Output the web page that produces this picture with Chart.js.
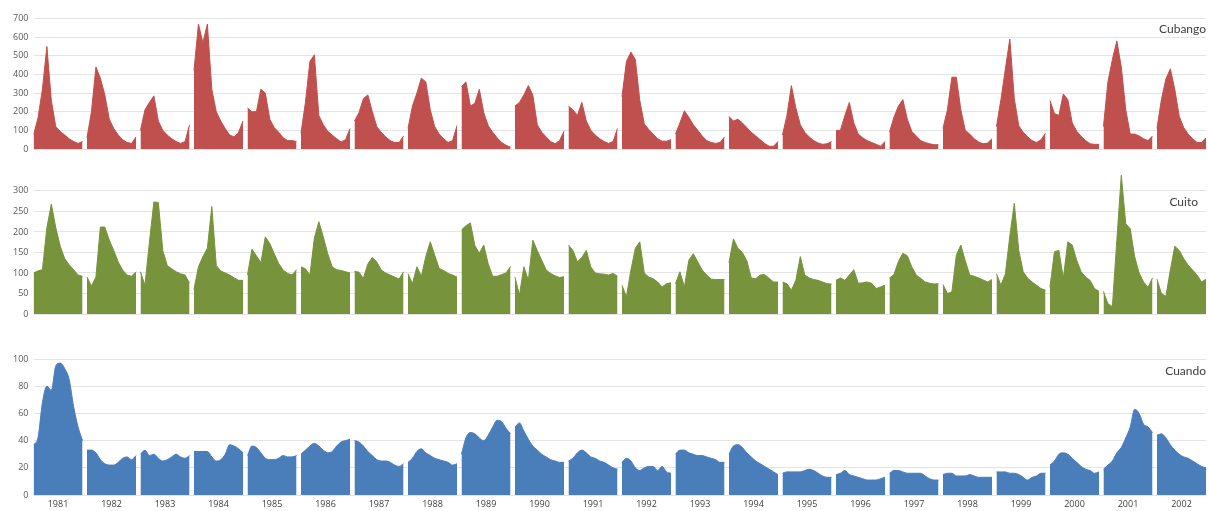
<!DOCTYPE html>
<html><head><meta charset="utf-8">
<script src="https://cdn.jsdelivr.net/npm/chart.js@4/dist/chart.umd.min.js"></script>
<style>
html,body{margin:0;padding:0;background:#fff;}
#wrap{position:relative;width:1208px;height:511px;overflow:hidden;background:#fff;}
.c{position:absolute;left:0;width:1208px;}
</style></head><body>
<div id="wrap">
<div class="c" style="top:0;height:160px"><canvas id="c1"></canvas></div>
<div class="c" style="top:160px;height:165px"><canvas id="c2"></canvas></div>
<div class="c" style="top:330px;height:181px"><canvas id="c3"></canvas></div>
</div>
<script>
const years = ['1981','1982','1983','1984','1985','1986','1987','1988','1989','1990','1991',
  '1992','1993','1994','1995','1996','1997','1998','1999','2000','2001','2002'];

const seriesNames = ['Cubango','Cuito','Cuando'];

const cubango = [
  75,165,320,550,260,120,95,75,55,40,30,40,
  60,200,440,380,290,160,110,75,50,35,30,65,
  100,210,250,285,150,100,75,55,40,30,40,130,
  420,670,570,670,320,200,150,110,75,65,90,150,
  220,200,200,320,300,160,115,90,60,45,45,40,
  85,250,470,505,180,130,95,75,55,38,50,110,
  150,195,270,290,200,120,90,65,45,35,35,70,
  110,230,300,380,360,210,120,80,55,35,45,125,
  335,360,230,245,320,195,125,90,60,35,20,10,
  230,250,290,340,290,130,90,65,40,28,45,95,
  230,210,180,250,150,100,75,55,40,30,40,110,
  280,470,520,480,260,135,105,80,55,42,42,50,
  80,140,205,170,130,100,70,45,35,30,35,65,
  175,150,160,140,115,90,70,50,30,15,15,40,
  75,180,340,220,130,90,65,45,32,25,28,40,
  100,100,180,250,140,80,60,45,35,25,15,40,
  90,170,230,265,160,95,70,45,35,28,23,23,
  110,210,385,385,210,100,80,55,38,28,32,55,
  120,265,430,590,270,125,90,65,45,35,50,85,
  260,190,180,295,265,140,95,68,45,28,25,25,
  120,360,480,580,440,210,80,80,70,55,45,70,
  110,265,375,430,320,175,115,80,55,35,35,60
];

const cuito = [
  100,105,108,210,268,210,165,135,120,108,95,92,
  90,68,90,212,212,180,155,127,107,95,92,103,
  103,70,175,273,272,155,118,110,103,98,95,75,
  60,115,140,160,262,118,105,100,95,88,82,82,
  95,158,142,125,188,172,147,123,107,99,95,108,
  115,110,95,185,225,188,147,115,108,106,103,100,
  104,102,87,122,138,127,107,100,95,90,85,103,
  98,74,115,92,140,176,143,111,106,99,95,90,
  205,215,222,167,148,168,122,92,92,96,100,116,
  90,46,115,82,180,155,131,107,99,93,89,91,
  168,155,127,138,155,115,100,98,97,95,99,92,
  70,42,107,160,176,100,90,86,78,66,74,76,
  74,103,66,131,147,127,107,95,85,84,84,84,
  125,183,160,150,130,88,86,95,96,87,78,78,
  78,74,58,82,140,95,88,84,82,78,74,73,
  82,88,82,95,108,75,76,78,75,62,66,70,
  88,96,128,148,142,115,95,87,78,75,73,74,
  72,50,54,143,168,130,95,92,88,83,78,84,
  98,70,98,190,270,155,103,87,78,70,62,58,
  65,152,155,87,176,168,131,103,90,82,62,55,
  55,25,18,180,338,220,208,140,100,78,65,88,
  85,50,43,107,165,155,135,119,107,95,78,85
];

const cuando = [
  37,42,68,80,77,95,97,93,85,65,50,40,
  33,33,31,26,23,22,22,24,27,28,26,29,
  30,33,29,30,27,25,26,28,30,28,27,29,
  32,32,32,32,28,25,26,30,37,36,34,31,
  29,36,35,31,27,26,26,27,29,28,28,29,
  30,33,36,38,36,33,31,32,36,39,40,41,
  40,39,36,32,29,26,25,25,24,22,21,23,
  24,27,32,34,31,29,27,26,25,24,22,23,
  30,42,46,45,42,40,44,50,55,54,49,45,
  50,53,47,41,36,33,30,28,26,25,24,24,
  25,27,31,33,31,28,27,25,24,22,20,19,
  24,27,25,20,18,20,21,21,18,21,17,16,
  30,33,33,31,30,29,29,28,27,26,24,24,
  30,36,37,35,31,28,25,23,21,19,17,15,
  16,17,17,17,17,18,19,18,16,14,13,13,
  15,16,18,15,14,13,12,11,11,11,12,13,
  16,18,18,17,16,16,16,16,14,12,11,11,
  15,16,16,14,14,14,15,14,13,13,13,13,
  17,17,17,16,16,15,13,11,13,14,16,16,
  22,25,30,31,30,27,24,21,19,18,16,17,
  19,22,25,31,35,42,50,63,60,52,50,46,
  44,45,42,37,33,30,28,27,25,23,21,20
];

const cubangoTicks = [0,100,200,300,400,500,600,700];
const cuitoTicks = [0,50,100,150,200,250,300];
const cuandoTicks = [0,20,40,60,80,100];

function toPoints(vals){
  const pts = [];
  vals.forEach((v,i)=>{
    pts.push({x:i, y:v});
    if (i % 12 === 11 && i < vals.length-1) pts.push({x:i+0.5, y:null});
  });
  return pts;
}

const nameLabel = {
  id:'nameLabel',
  afterDraw(chart, args, o){
    const ctx = chart.ctx;
    ctx.save();
    ctx.font = '12px Lato, "Open Sans", sans-serif';
    ctx.fillStyle = '#404040';
    ctx.textAlign = 'right';
    ctx.textBaseline = 'middle';
    ctx.fillText(o.text, chart.chartArea.right - o.dx, chart.chartArea.top + o.dy);
    ctx.restore();
  }
};

const tickFont = {family:'"Open Sans", sans-serif', size:9};

function makeChart(id, vals, color, yMax, ticks, padding, showX, name, dx, dy, smooth){
  return new Chart(document.getElementById(id), {
    type:'line',
    data:{ datasets:[{
      data: toPoints(vals),
      borderColor: color,
      backgroundColor: color,
      borderWidth: 1,
      fill: 'origin',
      pointRadius: 0,
      spanGaps: false,
      tension: smooth ? 0.3 : 0,
      cubicInterpolationMode: smooth ? 'monotone' : 'default'
    }]},
    options:{
      responsive:true, maintainAspectRatio:false, animation:false,
      layout:{ padding: padding },
      plugins:{ legend:{display:false}, tooltip:{enabled:false}, title:{display:false},
        nameLabel:{ text:name, dx:dx, dy:dy } },
      scales:{
        x:{
          type:'linear', min:0, max:vals.length-1,
          display: showX,
          grid:{display:false, drawTicks:false},
          border:{display:false},
          afterBuildTicks: s => { s.ticks = years.map((y,i)=>({value:i*12+5.5})); },
          afterFit: s => { s.height = showX ? 16 : 0; },
          ticks:{ autoSkip:false, maxRotation:0, padding:4, color:'#404040', font:tickFont,
            callback:(v,i)=>years[i] }
        },
        y:{
          min:0, max:yMax,
          grid:{ color:'#e4e4e4', drawTicks:false, lineWidth:1 },
          border:{display:false},
          afterBuildTicks: s => { s.ticks = ticks.map(v=>({value:v})); },
          afterFit: s => { s.width = 33.5; },
          ticks:{ padding:5, color:'#595959', font:tickFont }
        }
      }
    },
    plugins:[nameLabel]
  });
}

makeChart('c1', cubango, '#C0504D', 700, cubangoTicks, {top:18.5,bottom:11,left:0,right:2}, false, seriesNames[0], 0, 11, false);
makeChart('c2', cuito, '#77933C', 350, cuitoTicks, {top:10,bottom:11,left:0,right:2}, false, seriesNames[1], 8, 32, false);
makeChart('c3', cuando, '#4A7EBB', 100, cuandoTicks, {top:29,bottom:0,left:0,right:2}, true, seriesNames[2], 0, 12, true);
</script>
</body></html>
